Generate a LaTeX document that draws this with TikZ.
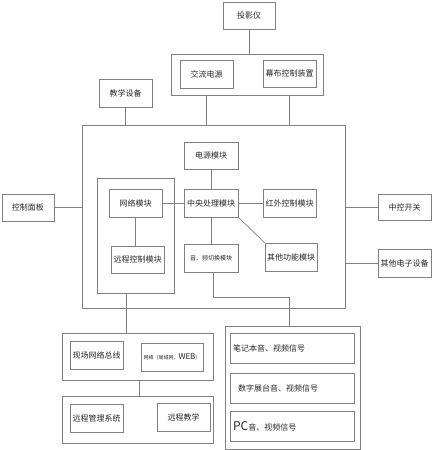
\documentclass[tikz,border=0pt]{standalone}
\usepackage{fontspec}
\newfontfamily\cjk{Noto Sans CJK SC}
\begin{document}
\begin{tikzpicture}[x=1pt,y=-1pt,
  box/.style={draw=black!50, line width=0.7pt, inner sep=0pt, font=\cjk\fontsize{8}{9}\selectfont, text=black!85},
  grp/.style={draw=black!50, line width=0.7pt, inner sep=0pt},
  ln/.style={draw=black!50, line width=0.7pt},
  lbox/.style={box, text width=118pt, align=left}]
\useasboundingbox (0,0) rectangle (432,450);
% top
\node[box, minimum width=52, minimum height=27] (tyy) at (249,15.5) {投影仪};
\node[grp, minimum width=152, minimum height=41] (gtop) at (247,74.5) {};
\node[box, minimum width=53, minimum height=28] (jl) at (206.5,74) {交流电源};
\node[box, minimum width=53, minimum height=27] (mb) at (289.5,73.5) {幕布控制装置};
\node[box, minimum width=53, minimum height=28] (jx) at (125.5,93) {教学设备};
% main
\node[grp, minimum width=263, minimum height=183] (main) at (213.5,216.5) {};
\node[box, minimum width=54, minimum height=27] (dy) at (211,155.5) {电源模块};
\node[box, minimum width=54, minimum height=28] (zy) at (211,203) {中央处理模块};
\node[grp, minimum width=77, minimum height=115] (inner) at (135.5,235.5) {};
\node[box, minimum width=53, minimum height=28] (wl) at (135.5,203) {网络模块};
\node[box, minimum width=53, minimum height=27] (yc) at (137.5,259.5) {远程控制模块};
\node[box, minimum width=53, minimum height=28] (hw) at (289.5,203) {红外控制模块};
\node[box, minimum width=54, minimum height=28, font=\cjk\fontsize{6}{7}\selectfont] (yp) at (211,258) {音、频切换模块};
\node[box, minimum width=52, minimum height=28] (qt) at (291,257) {其他功能模块};
% sides
\node[box, minimum width=52, minimum height=27] (kz) at (28,207.5) {控制面板};
\node[box, minimum width=53, minimum height=26] (zk) at (404.5,207) {中控开关};
\node[box, minimum width=53, minimum height=28] (qd) at (404.5,263) {其他电子设备};
% bottom left
\node[grp, minimum width=151, minimum height=47] (g1) at (137.5,356.5) {};
\node[box, minimum width=53, minimum height=28] (xc) at (96.5,355) {现场网络总线};
\node[box, minimum width=62, minimum height=28] (wlw) at (172,357) {{\fontsize{5}{6}\selectfont 网络（局域网，}WEB{\fontsize{5}{6}\selectfont ）}};
\node[grp, minimum width=151, minimum height=47] (g2) at (137.5,419.5) {};
\node[box, minimum width=53, minimum height=28] (ycg) at (96.5,418) {远程管理系统};
\node[box, minimum width=53, minimum height=28] (ycj) at (183.5,417) {远程教学};
% bottom right
\node[grp, minimum width=135, minimum height=123] (rg) at (292.5,387.5) {};
\node[lbox, minimum width=124, minimum height=30] (bj) at (292,348) {笔记本音、视频信号};
\node[lbox, minimum width=124, minimum height=30] (sz) at (292,388) {\hspace*{5pt}数字展台音、视频信号};
\node[lbox, minimum width=124, minimum height=30] (pc) at (292,426) {{\fontsize{12}{12}\selectfont PC}音、视频信号};
% connectors
\draw[ln] (tyy.south) -- (tyy.south |- gtop.north);
\draw[ln] (jx.south) -- (jx.south |- main.north);
\draw[ln] (jl.south |- gtop.south) -- (jl.south |- main.north);
\draw[ln] (mb.south |- gtop.south) -- (mb.south |- main.north);
\draw[ln] (dy.south) -- (zy.north);
\draw[ln] (wl.east) -- (zy.west);
\draw[ln] (zy.east) -- (hw.west);
\draw[ln] (wl.south) -- (wl.south |- yc.north);
\draw[ln] (zy.south) -- (zy.south |- yp.north);
\draw[ln] (zy.south east) -- (qt.north west);
\coordinate (b1) at (213,297);
\coordinate (b2) at (289,297);
\draw[ln] (b1 |- yp.south) -- (b1) -- (b2) -- (b2 |- rg.north);
\draw[ln] (kz.east) -- (kz.east -| main.west);
\draw[ln] (zk.west -| main.east) -- (zk.west);
\draw[ln] (qd.west -| main.east) -- (qd.west);
\coordinate (c1) at (126,300);
\draw[ln] (c1 |- inner.south) -- (c1 |- g1.north);
\coordinate (c2) at (139,390);
\draw[ln] (c2 |- g1.south) -- (c2 |- g2.north);
\end{tikzpicture}
\end{document}
